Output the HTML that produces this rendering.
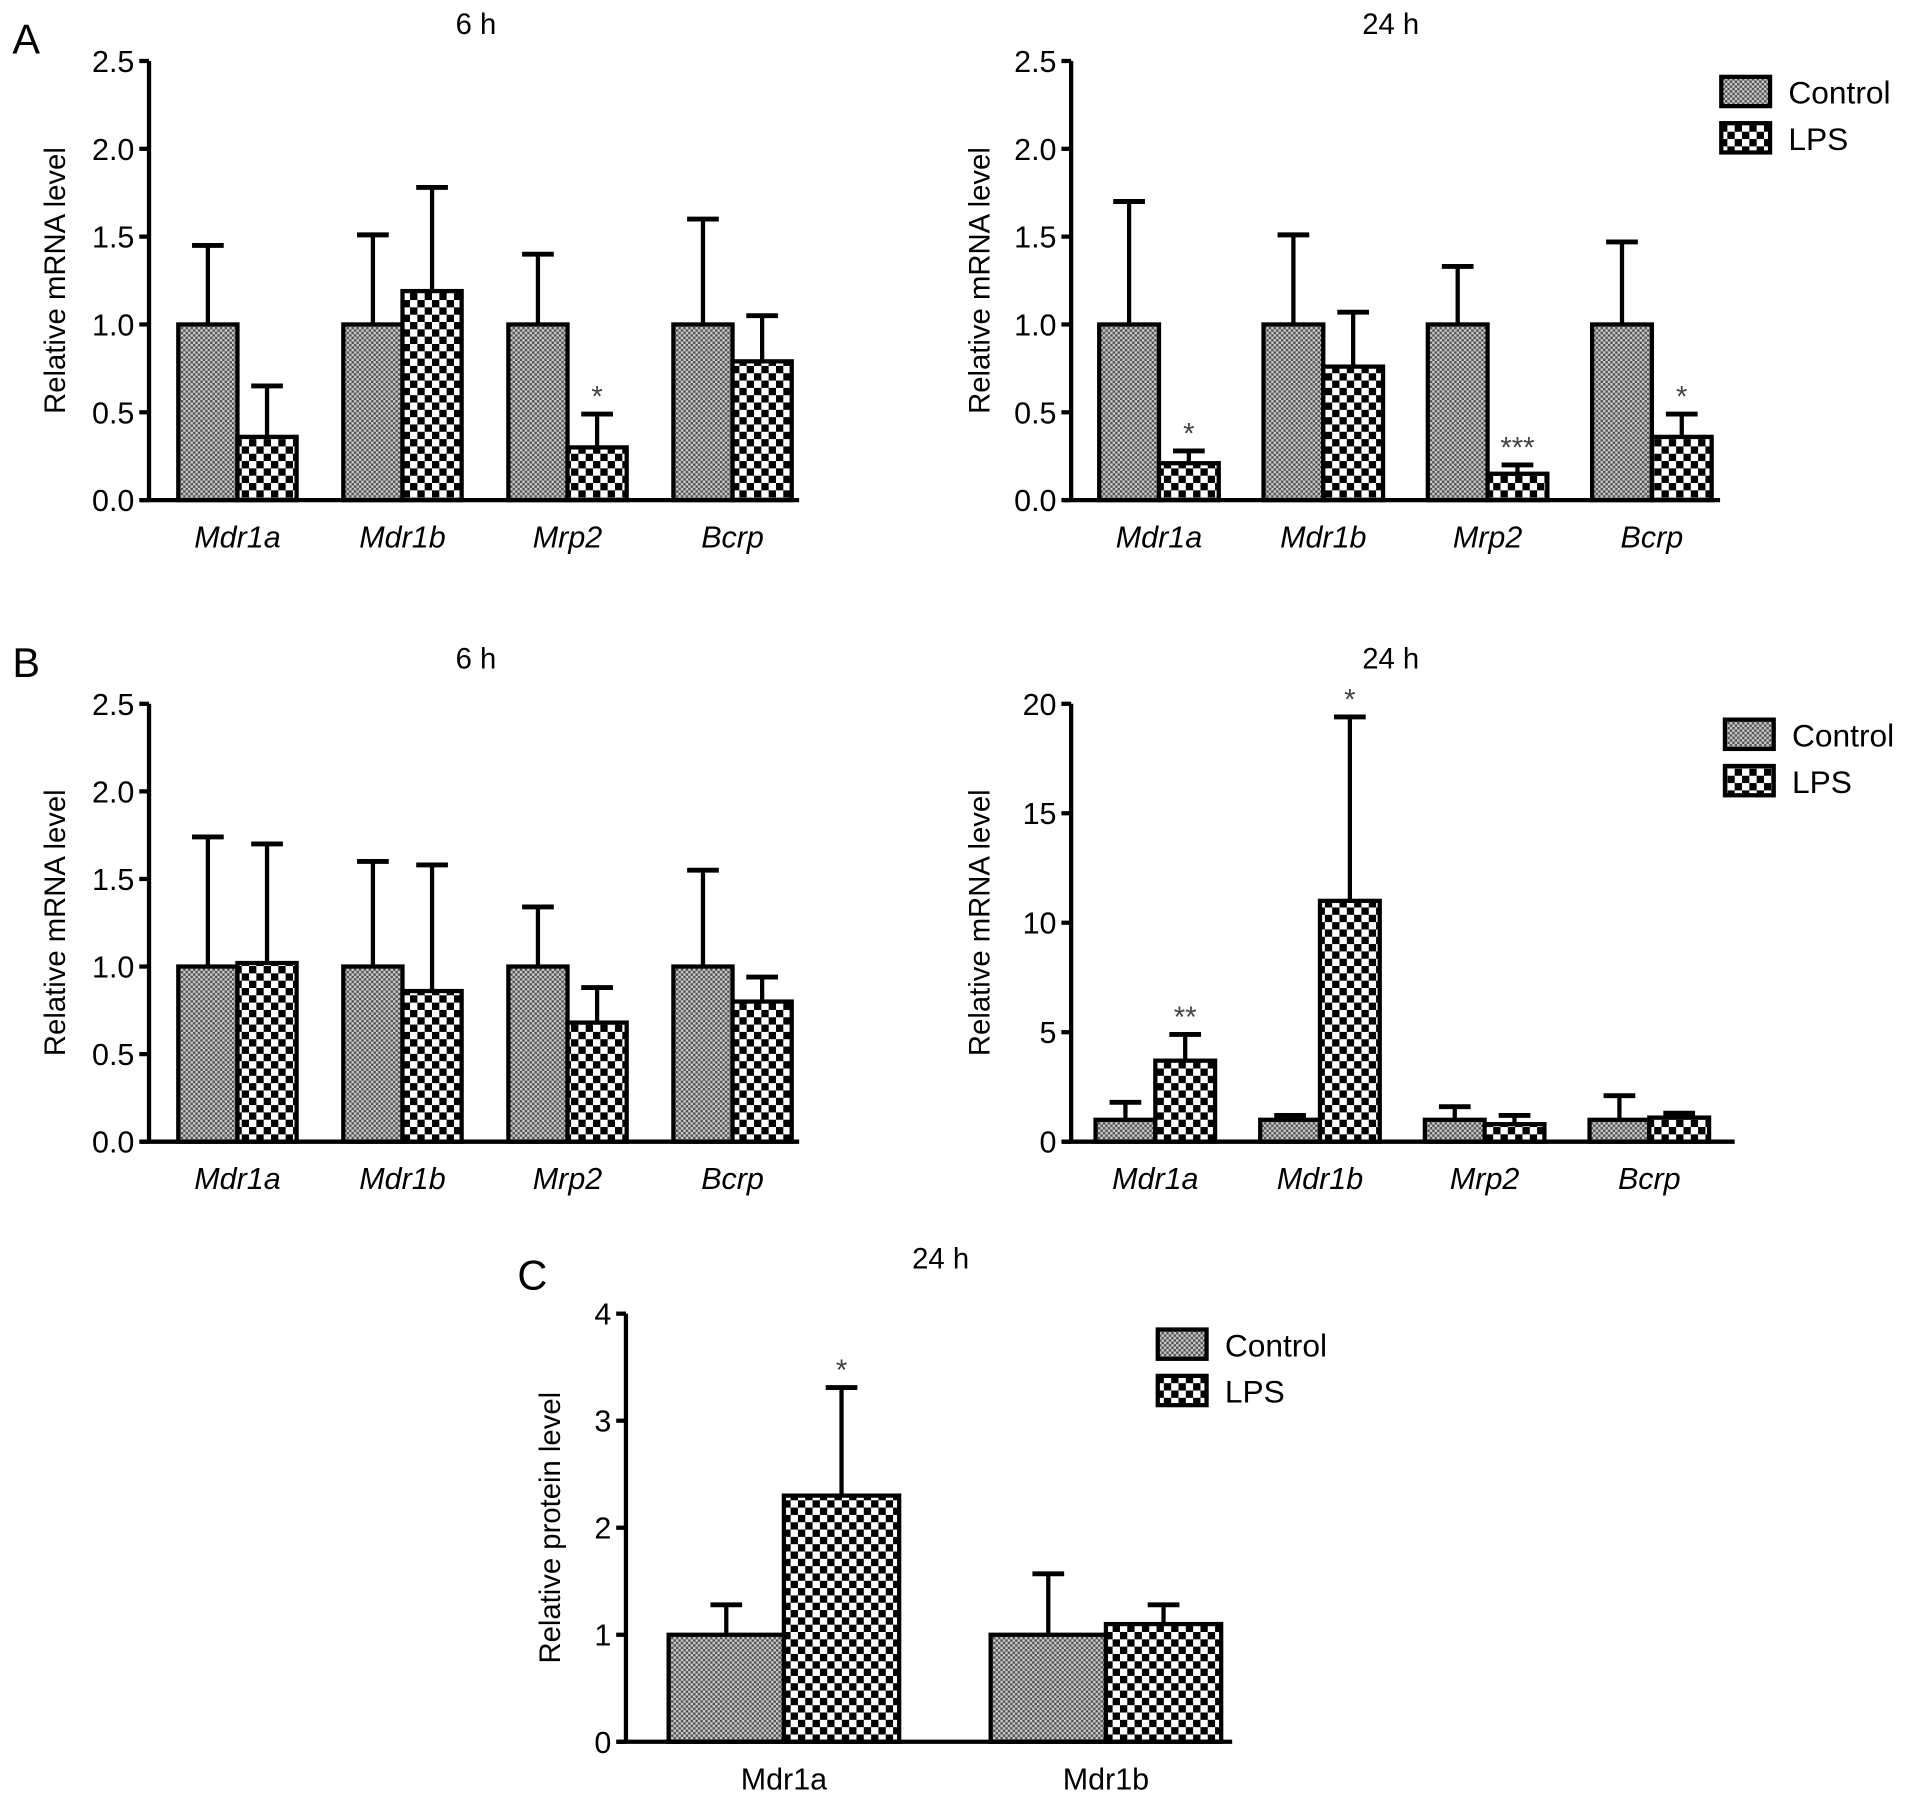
<!DOCTYPE html>
<html><head><meta charset="utf-8"><style>
html,body{margin:0;padding:0;background:#fff;}
svg{display:block;font-family:"Liberation Sans",sans-serif;}
</style></head><body>
<svg id="fig" width="1913" height="1804" viewBox="0 0 1568 1479" xmlns="http://www.w3.org/2000/svg">
<defs>
<pattern id="pCtrl" patternUnits="userSpaceOnUse" width="4" height="4">
<rect width="4" height="4" fill="#c8c8c8"/><rect width="2" height="2" fill="#555"/><rect x="2" y="2" width="2" height="2" fill="#555"/>
</pattern>
<pattern id="pLps" patternUnits="userSpaceOnUse" width="12" height="12">
<rect width="12" height="12" fill="#fff"/><rect width="6" height="6" fill="#000"/><rect x="6" y="6" width="6" height="6" fill="#000"/>
</pattern>
</defs>
<g id="root"></g>
</svg>
<script>
const genes = ["Mdr1a","Mdr1b","Mrp2","Bcrp"];
const a6Ctrl = [1,1,1,1];
const a6CtrlErr = [1.45,1.51,1.40,1.60];
const a6Lps = [0.36,1.19,0.30,0.79];
const a6LpsErr = [0.65,1.78,0.49,1.05];
const a6Sig = ["","","*",""];
const a24Ctrl = [1,1,1,1];
const a24CtrlErr = [1.70,1.51,1.33,1.47];
const a24Lps = [0.21,0.76,0.15,0.36];
const a24LpsErr = [0.28,1.07,0.20,0.49];
const a24Sig = ["*","","***","*"];
const b6Ctrl = [1,1,1,1];
const b6CtrlErr = [1.74,1.60,1.34,1.55];
const b6Lps = [1.02,0.86,0.68,0.80];
const b6LpsErr = [1.70,1.58,0.88,0.94];
const b6Sig = ["","","",""];
const b24Ctrl = [1,1,1,1];
const b24CtrlErr = [1.8,1.2,1.6,2.1];
const b24Lps = [3.7,11.0,0.8,1.1];
const b24LpsErr = [4.9,19.4,1.2,1.3];
const b24Sig = ["**","*","",""];
const proteins = ["Mdr1a","Mdr1b"];
const cCtrl = [1,1];
const cCtrlErr = [1.28,1.57];
const cLps = [2.3,1.1];
const cLpsErr = [3.31,1.28];
const cSig = ["*",""];
const ticksA = ["0.0","0.5","1.0","1.5","2.0","2.5"];
const ticksB24 = ["0","5","10","15","20"];
const ticksC = ["0","1","2","3","4"];

const NS="http://www.w3.org/2000/svg";
const root=document.getElementById('root');
function mk(tag,attrs,parent,txt){const e=document.createElementNS(NS,tag);for(const k in attrs)e.setAttribute(k,attrs[k]);if(txt!==undefined)e.textContent=txt;(parent||root).appendChild(e);return e;}

function panel(o){
  const g=mk('g',{});
  
  
  const ymax=parseFloat(o.ticks[o.ticks.length-1]);
  const Y=v=>o.y0-(v/ymax)*(o.y0-o.yTop);
  const t=mk('text',{x:o.titleX,y:o.titleY,'font-size':24,'text-anchor':'middle'},g,o.title);
  
  
  const ax=mk('line',{x1:o.ax,y1:o.yTop,x2:o.ax,y2:o.y0,stroke:'#000','stroke-width':3.5},g);
  
  
  o.ticks.forEach(tk=>{
    const v=parseFloat(tk),y=Y(v);
    mk('line',{x1:o.ax-8,y1:y,x2:o.ax,y2:y,stroke:'#000','stroke-width':3.5},g);
    const tl=mk('text',{x:o.ax-12,y:y+9,'font-size':25,'text-anchor':'end'},g,tk);
    
    
  });
  const yt=mk('text',{transform:`translate(${o.ytX},${(o.yTop+o.y0)/2}) rotate(-90)`,'font-size':24,'text-anchor':'middle'},g,o.ytitle);
  
  
  o.cats.forEach((c,i)=>{
    const gx=o.gx0+i*o.gstep;
    [[o.ctrl[i],o.ctrlErr[i],'url(#pCtrl)',gx,'control'],[o.lps[i],o.lpsErr[i],'url(#pLps)',gx+o.bw,'lps']].forEach(([v,e,fill,x,s])=>{
      const cx=x+o.bw/2;
      const el=mk('line',{x1:cx,y1:Y(v),x2:cx,y2:Y(e),stroke:'#000','stroke-width':3.5},g);
      
      
      mk('line',{x1:cx-13,y1:Y(e),x2:cx+13,y2:Y(e),stroke:'#000','stroke-width':4},g);
      const r=mk('rect',{x:x,y:Y(v),width:o.bw,height:o.y0-Y(v),fill:fill,stroke:'#000','stroke-width':3.5},g);
      
      
    });
    if(o.sig[i]){
      const st=mk('text',{x:gx+o.bw*1.5,y:Y(o.lpsErr[i])-6,'font-size':24,'text-anchor':'middle',fill:'#444'},g,o.sig[i]);
      
      
    }
    const cl=mk('text',{x:gx+o.bw,y:o.y0+39,'font-size':25,'text-anchor':'middle','font-style':o.italic?'italic':'normal'},g,c);
    
    
  });
  const xa=mk('line',{x1:o.ax-7,y1:o.y0,x2:o.xEnd,y2:o.y0,stroke:'#000','stroke-width':3.5},g);
  
  
  if(o.leg){
    const [lx,ly]=o.leg;
    [['url(#pCtrl)','Control',0],['url(#pLps)','LPS',38]].forEach(([f,n,dy])=>{
      const lr=mk('rect',{x:lx,y:ly+dy,width:40,height:24,fill:f,stroke:'#000','stroke-width':3.5},g);
      
      
      const lt=mk('text',{x:lx+55,y:ly+dy+22,'font-size':26},g,n);
      
      
    });
  }
}
panel({name:'panel-a-6h',title:'6 h',titleX:390,titleY:28,ax:122,y0:410,yTop:50,xEnd:655,gx0:146,gstep:135.3,bw:48.5,cats:genes,italic:true,ctrl:a6Ctrl,ctrlErr:a6CtrlErr,lps:a6Lps,lpsErr:a6LpsErr,sig:a6Sig,ticks:ticksA,ytitle:'Relative mRNA level',ytX:53});
panel({name:'panel-a-24h',title:'24 h',titleX:1140,titleY:28,ax:878,y0:410,yTop:50,xEnd:1410,gx0:901,gstep:134.7,bw:49,cats:genes,italic:true,ctrl:a24Ctrl,ctrlErr:a24CtrlErr,lps:a24Lps,lpsErr:a24LpsErr,sig:a24Sig,ticks:ticksA,ytitle:'Relative mRNA level',ytX:811,leg:[1411,63]});
panel({name:'panel-b-6h',title:'6 h',titleX:390,titleY:548,ax:122,y0:936,yTop:577,xEnd:655,gx0:146,gstep:135.3,bw:48.5,cats:genes,italic:true,ctrl:b6Ctrl,ctrlErr:b6CtrlErr,lps:b6Lps,lpsErr:b6LpsErr,sig:b6Sig,ticks:ticksA,ytitle:'Relative mRNA level',ytX:53});
panel({name:'panel-b-24h',title:'24 h',titleX:1140,titleY:548,ax:878,y0:936,yTop:577,xEnd:1422,gx0:898,gstep:135,bw:49,cats:genes,italic:true,ctrl:b24Ctrl,ctrlErr:b24CtrlErr,lps:b24Lps,lpsErr:b24LpsErr,sig:b24Sig,ticks:ticksB24,ytitle:'Relative mRNA level',ytX:811,leg:[1414,590]});
panel({name:'panel-c-24h',title:'24 h',titleX:771,titleY:1040,ax:513,y0:1428,yTop:1077,xEnd:1010,gx0:548,gstep:264,bw:94.5,cats:proteins,italic:false,ctrl:cCtrl,ctrlErr:cCtrlErr,lps:cLps,lpsErr:cLpsErr,sig:cSig,ticks:ticksC,ytitle:'Relative protein level',ytX:459,leg:[949,1090]});
[['A',10,44],['B',10,555],['C',424,1057]].forEach(([l,x,y])=>{
  const t=mk('text',{x:x,y:y,'font-size':34},root,l);
  
  
});
</script>
</body></html>
